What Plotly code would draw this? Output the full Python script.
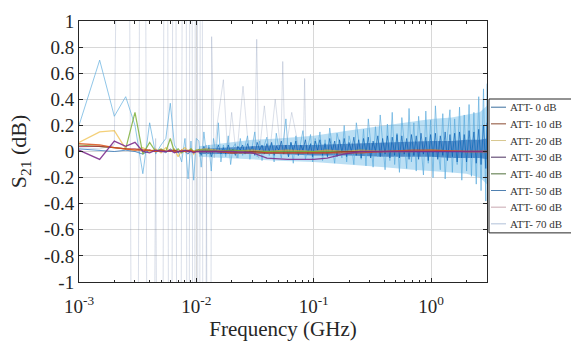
import plotly.graph_objects as go

# ---------------- data ----------------
names = ["ATT- 0 dB", "ATT- 10 dB", "ATT- 20 dB", "ATT- 30 dB",
         "ATT- 40 dB", "ATT- 50 dB", "ATT- 60 dB", "ATT- 70 dB"]
colors = ["#0072BD", "#D95319", "#EDB120", "#7E2F8E",
          "#77AC30", "#4DBEEE", "#A2142F", "#0072BD"]

# frequency (GHz)
freq_lo = [0.0010, 0.0015, 0.0020, 0.0025, 0.0030, 0.0035, 0.0040, 0.0045, 0.0050,
           0.0055, 0.0060, 0.0065, 0.0070, 0.0075, 0.0080, 0.0085, 0.0090, 0.0095, 0.0100]
freq_tail = [0.012, 0.015, 0.02, 0.03, 0.04, 0.06, 0.1, 0.13, 0.18, 0.25, 0.4, 0.7, 1.0, 2.0, 3.0]
freq_hi = [0.0105, 0.011, 0.0116, 0.0122, 0.0128, 0.0134, 0.014, 0.0147, 0.0154, 0.0162,
           0.017, 0.0178, 0.0187, 0.0196, 0.0205, 0.0215, 0.0226, 0.0237, 0.0248, 0.026,
           0.0273, 0.0286, 0.03, 0.0315, 0.033, 0.0346, 0.0363, 0.038, 0.0399, 0.0418,
           0.0438, 0.046, 0.048, 0.0505, 0.053, 0.0555, 0.058, 0.061, 0.064, 0.067,
           0.0705, 0.074, 0.0775, 0.081, 0.085, 0.089, 0.094, 0.098, 0.103, 0.108,
           0.113, 0.119, 0.125, 0.131, 0.137, 0.144, 0.151, 0.158, 0.166, 0.174,
           0.182, 0.191, 0.2, 0.21, 0.22, 0.231, 0.242, 0.254, 0.266, 0.279,
           0.292, 0.306, 0.321, 0.336, 0.352, 0.369, 0.387, 0.406, 0.425, 0.446,
           0.467, 0.49, 0.513, 0.538, 0.564, 0.591, 0.62, 0.65, 0.681, 0.714,
           0.748, 0.784, 0.822, 0.862, 0.903, 0.947, 0.992, 1.04, 1.09, 1.14,
           1.2, 1.26, 1.32, 1.38, 1.45, 1.52, 1.59, 1.67, 1.75, 1.83,
           1.92, 2.01, 2.11, 2.21, 2.32, 2.43, 2.55, 2.67, 2.8, 2.93,
           3.0]
freq_spk = [0.0105, 0.011, 0.0116, 0.0122, 0.0128, 0.0135, 0.0142, 0.015, 0.017, 0.0185,
            0.02, 0.022, 0.025, 0.028, 0.0315, 0.0327, 0.034, 0.038, 0.042, 0.047,
            0.0525, 0.0545, 0.057, 0.065, 0.075, 0.0815, 0.0837, 0.086, 0.1, 0.13,
            0.2, 0.4, 1.0, 3.0]
freq_env = [0.0105, 0.02, 0.03, 0.05, 0.1, 0.2, 0.4, 0.7, 1.0, 1.5, 2.0, 2.6, 3.0]

# S21 (dB)
att0_lo = [0.02, 0.01, 0.0, 0.01, 0.0, -0.02, 0.01, 0.0, 0.01, -0.01,
           0.02, 0.0, -0.01, 0.01, 0.0, -0.02, 0.01, -0.01, 0.0]
att0_hi = [0.02, -0.03, 0.04, -0.01, 0.03, -0.04, 0.02, 0.0, 0.05, -0.02,
           0.03, -0.02, 0.05, -0.01, 0.02, -0.03, 0.04, 0.01, 0.05, -0.02,
           0.06, 0.0, 0.04, -0.03, 0.07, 0.01, 0.05, -0.02, 0.06, 0.0,
           0.07, -0.03, 0.04, 0.01, 0.08, -0.02, 0.05, -0.04, 0.07, 0.0,
           0.08, -0.03, 0.05, 0.01, 0.09, -0.02, 0.06, -0.04, 0.08, 0.01,
           0.09, -0.03, 0.06, -0.04, 0.10, 0.0, 0.08, -0.04, 0.09, -0.01,
           0.10, -0.04, 0.07, 0.0, 0.11, -0.03, 0.09, -0.05, 0.10, -0.01,
           0.11, -0.05, 0.08, 0.0, 0.12, -0.04, 0.10, -0.02, 0.12, -0.05,
           0.11, -0.03, 0.13, -0.05, 0.12, -0.02, 0.10, -0.06, 0.13, -0.03,
           0.12, -0.06, 0.14, -0.02, 0.11, -0.07, 0.13, -0.04, 0.14, -0.06,
           0.12, -0.03, 0.15, -0.07, 0.13, -0.04, 0.14, -0.08, 0.15, -0.05,
           0.13, -0.08, 0.16, -0.05, 0.15, -0.09, 0.17, -0.10, 0.20, -0.13,
           0.22]
att10 = [0.06, 0.05, 0.03, 0.02, 0.01, 0.01, 0.01, 0.0, 0.01, 0.0,
         0.01, 0.0, 0.0, 0.01, 0.0, 0.0, 0.01, 0.0, 0.0,
         0.0, 0.0, -0.01, -0.01, -0.01, -0.01, -0.01, -0.01, -0.01, -0.01,
         0.0, 0.01, 0.01, 0.0, 0.0]
att20 = [0.07, 0.15, 0.16, 0.02, 0.01, 0.03, 0.0, 0.02, -0.01, 0.03,
         0.0, 0.02, -0.04, 0.01, 0.03, 0.0, 0.02, -0.02, 0.01,
         0.02, 0.01, 0.0, 0.01, 0.0, 0.01, 0.0, 0.01, 0.0, 0.01,
         0.0, 0.0, 0.01, 0.0, 0.0]
att30 = [0.01, -0.06, 0.08, 0.04, 0.07, 0.0, -0.01, 0.01, 0.0, 0.0,
         0.01, -0.01, 0.0, 0.0, 0.01, 0.0, 0.0, -0.01, 0.0,
         0.0, 0.0, 0.0, -0.01, -0.05, -0.06, -0.06, -0.05, -0.02, 0.0,
         0.0, 0.0, 0.0, 0.0, 0.0]
att40 = [0.05, 0.04, 0.03, 0.02, 0.30, -0.02, 0.07, 0.0, 0.02, 0.0,
         0.10, 0.0, 0.02, -0.01, 0.01, 0.0, 0.02, 0.0, 0.01,
         0.01, 0.0, 0.01, 0.0, 0.0, 0.0, 0.0, 0.0, 0.0, 0.0,
         0.0, 0.0, 0.0, 0.0, 0.0]
att50_lo = [0.20, 0.70, 0.27, 0.42, 0.20, -0.17, 0.22, -0.02, 0.05, 0.10,
            0.37, 0.05, 0.0, -0.08, 0.10, -0.21, 0.08, -0.22, 0.10]
att50_hi = [0.08, -0.12, 0.15, -0.03, 0.05, -0.15, 0.10, -0.02, 0.22, -0.08,
            0.05, -0.04, 0.12, -0.10, 0.03, 0.06, -0.05, 0.10, -0.03, 0.04,
            0.12, -0.06, 0.03, 0.15, -0.04, 0.08, -0.07, 0.05, 0.11, -0.03,
            0.06, -0.08, 0.14, 0.02, -0.05, 0.09, 0.25, -0.04, 0.07, -0.09,
            0.12, -0.03, 0.08, 0.16, -0.06, 0.04, 0.13, -0.08, 0.10, 0.02,
            0.15, -0.07, 0.09, -0.04, 0.18, 0.03, -0.09, 0.14, 0.06, -0.05,
            0.20, -0.08, 0.12, 0.04, -0.10, 0.22, 0.07, -0.06, 0.17, -0.11,
            0.25, 0.05, -0.12, 0.19, -0.04, 0.28, 0.08, -0.14, 0.21, -0.07,
            0.30, -0.10, 0.14, -0.16, 0.26, 0.05, -0.13, 0.33, -0.08, 0.22,
            -0.15, 0.27, 0.06, -0.18, 0.31, -0.09, 0.24, -0.20, 0.35, 0.04,
            -0.14, 0.29, -0.21, 0.12, 0.32, -0.16, 0.25, -0.10, 0.34, -0.22,
            0.28, -0.15, 0.36, -0.19, 0.30, -0.25, 0.42, -0.30, 0.48, -0.38,
            0.52]
att60 = [0.04, 0.04, 0.03, 0.02, 0.02, 0.01, 0.01, 0.0, 0.01, 0.0,
         0.0, 0.01, 0.0, 0.0, 0.0, 0.01, 0.0, 0.0, 0.0,
         0.0, 0.0, -0.01, 0.0, -0.01, -0.01, -0.01, -0.01, 0.0, 0.0,
         0.0, 0.0, 0.0, 0.0, 0.0]
att70_lo = [0.03, 0.02, 0.05, 8.0, -8.0, 8.0, -8.0, 0.1, -8.0, 8.0,
            -8.0, 8.0, -8.0, 0.0, 8.0, -8.0, 8.0, -8.0, 8.0]
att70_hi = [-8.0, 8.0, -8.0, 0.05, -8.0, 0.88, -0.05, 0.2, 0.55, -0.02,
            0.3, -0.05, 0.5, 0.0, 0.05, 0.86, -0.05, 0.35, -0.03, 0.4,
            0.0, 0.69, -0.02, 0.3, 0.02, 0.0, 0.56, 0.0, 0.02, 0.0,
            0.01, 0.0, 0.01, 0.0]
# envelope of the dense noise band
band_up = [0.04, 0.07, 0.09, 0.10, 0.12, 0.16, 0.20, 0.23, 0.25, 0.26, 0.28, 0.30, 0.35]
band_dn = [-0.04, -0.05, -0.06, -0.07, -0.08, -0.10, -0.12, -0.14, -0.15, -0.16, -0.17, -0.20, -0.25]
core_up = [0.02, 0.03, 0.04, 0.05, 0.05, 0.06, 0.07, 0.08, 0.08, 0.08, 0.09, 0.09, 0.10]
core_dn = [-0.02, -0.02, -0.02, -0.02, -0.03, -0.03, -0.04, -0.04, -0.04, -0.05, -0.05, -0.05, -0.06]

x_ticks = [0.001, 0.01, 0.1, 1]
x_ticktext = ["10<sup>-3</sup>", "10<sup>-2</sup>", "10<sup>-1</sup>", "10<sup>0</sup>"]
y_ticks = [-1, -0.8, -0.6, -0.4, -0.2, 0, 0.2, 0.4, 0.6, 0.8, 1]
y_ticktext = ["-1", "-0.8", "-0.6", "-0.4", "-0.2", "0", "0.2", "0.4", "0.6", "0.8", "1"]

# ---------------- figure ----------------
FONT = '"Liberation Serif", "Times New Roman", "DejaVu Serif", serif'
fig = go.Figure()

fig.add_trace(go.Scatter(x=freq_env + freq_env[::-1], y=band_up + band_dn[::-1],
                         fill="toself", fillcolor="rgba(77,170,225,0.38)",
                         line=dict(width=0), hoverinfo="skip", showlegend=False))
fig.add_trace(go.Scatter(x=freq_env + freq_env[::-1], y=core_up + core_dn[::-1],
                         fill="toself", fillcolor="rgba(20,85,170,0.6)",
                         line=dict(width=0), hoverinfo="skip", showlegend=False))

fig.add_trace(go.Scatter(x=freq_lo + freq_spk, y=att70_lo + att70_hi, mode="lines",
                         name=names[7], line=dict(color="rgba(120,140,175,0.35)", width=0.8),
                         showlegend=False))
fig.add_trace(go.Scatter(x=freq_lo + freq_hi, y=att50_lo + att50_hi, mode="lines",
                         name=names[5], line=dict(color="rgba(90,170,220,0.75)", width=0.9),
                         showlegend=False))
fig.add_trace(go.Scatter(x=freq_lo + freq_hi, y=att0_lo + att0_hi, mode="lines",
                         name=names[0], line=dict(color="rgba(0,90,175,0.7)", width=0.9),
                         showlegend=False))

freq_sm = freq_lo + freq_tail
for nm, col, vals, w, op in [(names[2], colors[2], att20, 1.3, 0.6),
                             (names[4], colors[4], att40, 1.2, 0.8),
                             (names[6], colors[6], att60, 1.2, 0.7),
                             (names[1], colors[1], att10, 1.3, 0.85),
                             (names[3], colors[3], att30, 1.3, 0.9)]:
    fig.add_trace(go.Scatter(x=freq_sm, y=vals, mode="lines", name=nm, opacity=op,
                             line=dict(color=col, width=w), showlegend=False))

# ---------------- legend (box, short line samples, text) ----------------
PL, PW, PB, PH = 79, 408, 282, 271   # plot area in pixels


def pxx(v):
    return (v - PL) / PW


def pxy(v):
    return (PB - v) / PH


shapes = [dict(type="rect", xref="paper", yref="paper",
               x0=pxx(489), x1=pxx(590), y0=pxy(231), y1=pxy(92),
               line=dict(color="#262626", width=1), fillcolor="white", layer="above")]
annotations = []
leg_cols = ["#3a6f9f", "#8a4a30", "#d8c890", "#4a3060", "#50703a", "#5080b0", "#c8a8b0", "#b0c0d8"]
for i, nm in enumerate(names):
    yy = 100.5 + 17.3 * i
    shapes.append(dict(type="line", xref="paper", yref="paper",
                       x0=pxx(491), x1=pxx(506), y0=pxy(yy), y1=pxy(yy),
                       line=dict(color=leg_cols[i], width=1), layer="above"))
    annotations.append(dict(x=pxx(508), y=pxy(yy), xref="paper", yref="paper",
                            text=nm, showarrow=False, xanchor="left", yanchor="middle",
                            font=dict(family=FONT, size=11, color="#333333")))

minor_vals = [m * 10.0 ** e for e in (-3, -2, -1, 0) for m in range(2, 10) if m * 10.0 ** e <= 3.0]

fig.update_layout(
    width=571, height=347,
    margin=dict(l=79, r=84, t=11, b=65),
    paper_bgcolor="white", plot_bgcolor="white",
    font=dict(family=FONT, color="#262626"),
    showlegend=False,
    shapes=shapes, annotations=annotations,
    xaxis=dict(type="log", range=[-3, 0.4771],
               tickvals=x_ticks, ticktext=x_ticktext,
               tickfont=dict(family=FONT, size=19), ticks="inside", ticklen=4, tickcolor="#262626",
               ticklabelstandoff=7,
               showline=True, linecolor="#262626", linewidth=1, mirror="ticks",
               showgrid=True, gridcolor="#d8d8d8", gridwidth=1, zeroline=False,
               minor=dict(tickvals=minor_vals, ticks="inside", ticklen=2.5,
                          tickcolor="#262626", showgrid=False),
               title=dict(text="Frequency (GHz)", font=dict(family=FONT, size=21), standoff=1)),
    yaxis=dict(range=[-1, 1], tickvals=y_ticks, ticktext=y_ticktext,
               tickfont=dict(family=FONT, size=19), ticks="inside", ticklen=4, tickcolor="#262626",
               showline=True, linecolor="#262626", linewidth=1, mirror="ticks",
               showgrid=True, gridcolor="#d8d8d8", gridwidth=1, zeroline=False,
               title=dict(text="S<sub>21</sub> (dB)", font=dict(family=FONT, size=22), standoff=11)),
)

fig.write_html("out.html")
